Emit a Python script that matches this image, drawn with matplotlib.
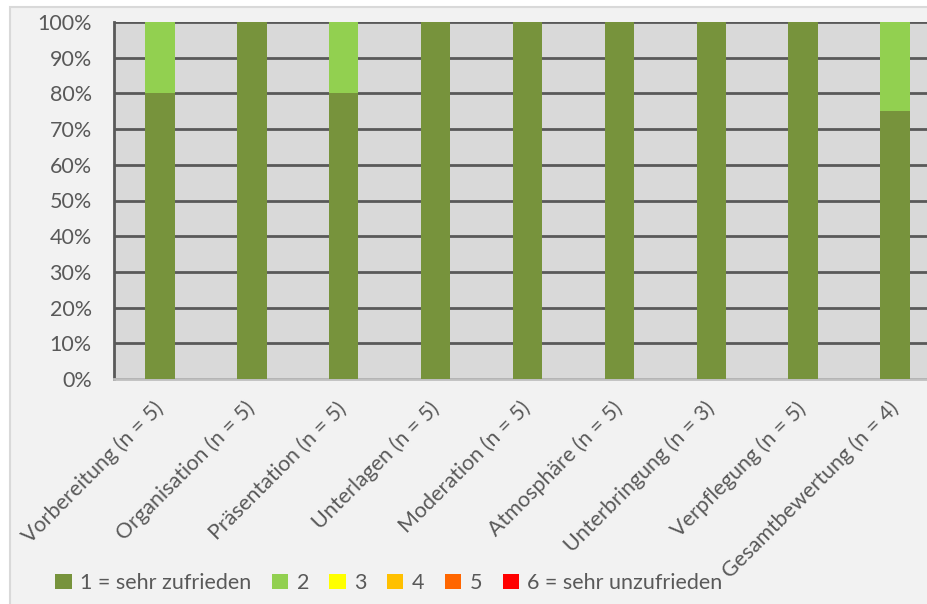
import matplotlib.pyplot as plt
from matplotlib.patches import Patch, Rectangle
import numpy as np

categories = ["Vorbereitung (n = 5)", "Organisation (n = 5)", "Präsentation (n = 5)",
              "Unterlagen (n = 5)", "Moderation (n = 5)", "Atmosphäre (n = 5)",
              "Unterbringung (n = 3)", "Verpflegung (n = 5)", "Gesamtbewertung (n = 4)"]

series_names = ["1 = sehr zufrieden", "2", "3", "4", "5", "6 = sehr unzufrieden"]
series_colors = ["#77933c", "#92d050", "#ffff00", "#ffc000", "#ff6600", "#ff0000"]

s1 = [80, 100, 80, 100, 100, 100, 100, 100, 75]
s2 = [20, 0, 20, 0, 0, 0, 0, 0, 25]
s3 = [0, 0, 0, 0, 0, 0, 0, 0, 0]
s4 = [0, 0, 0, 0, 0, 0, 0, 0, 0]
s5 = [0, 0, 0, 0, 0, 0, 0, 0, 0]
s6 = [0, 0, 0, 0, 0, 0, 0, 0, 0]
series = [s1, s2, s3, s4, s5, s6]

plt.rcParams['font.family'] = ['Lato', 'DejaVu Sans']
text_col = "#595959"
fs = 15.5

fig = plt.figure(figsize=(9.28, 6.04), dpi=100)
fig.patch.set_facecolor("white")
# chart area background with thin border
fig.patches.append(Rectangle((10 / 928, -0.1), 1.2, 1 - 7 / 604 + 0.1,
                             transform=fig.transFigure, facecolor="#f2f2f2",
                             edgecolor="#d9d9d9", linewidth=1.5, zorder=-10))

ax = fig.add_axes([114 / 928, 1 - 379 / 604, 827 / 928, 357 / 604])
ax.set_facecolor("#d9d9d9")

x = np.arange(len(categories))
bottom = np.zeros(len(categories))
for name, vals, col in zip(series_names, series, series_colors):
    vals = np.array(vals, dtype=float)
    ax.bar(x, vals, 0.32, bottom=bottom, color=col, zorder=3)
    bottom += vals

ax.set_xlim(-0.5, len(categories) - 0.5)
ax.set_ylim(0, 100)
ax.set_yticks(range(0, 101, 10))
ax.set_yticklabels([f"{v}%" for v in range(0, 101, 10)])
ax.yaxis.grid(True, color="#595959", linewidth=2, zorder=1)
ax.set_axisbelow(True)

for s in ["top", "right"]:
    ax.spines[s].set_visible(False)
ax.spines["left"].set_color("#595959")
ax.spines["left"].set_linewidth(2)
ax.spines["bottom"].set_color("#bfbfbf")
ax.spines["bottom"].set_linewidth(2)

ax.tick_params(axis="y", length=0, pad=16, labelsize=fs, labelcolor=text_col)
ax.tick_params(axis="x", length=0, pad=19, labelsize=fs, labelcolor=text_col)
ax.set_xticks(x)
ax.set_xticklabels(categories, rotation=45, ha="right", va="center",
                   rotation_mode="anchor")
for lbl in ax.get_xticklabels():
    lbl.set_zorder(5)

handles = [Patch(facecolor=c, edgecolor="none") for c in series_colors]
fig.legend(handles, series_names, loc="center left", bbox_to_anchor=(36 / 928, 1 - 583 / 604),
           ncol=6, frameon=False, fontsize=fs, labelcolor=text_col,
           handlelength=0.75, handleheight=0.75, handletextpad=0.4, columnspacing=0.95)

fig.savefig("out.png", dpi=100, facecolor=fig.get_facecolor())
